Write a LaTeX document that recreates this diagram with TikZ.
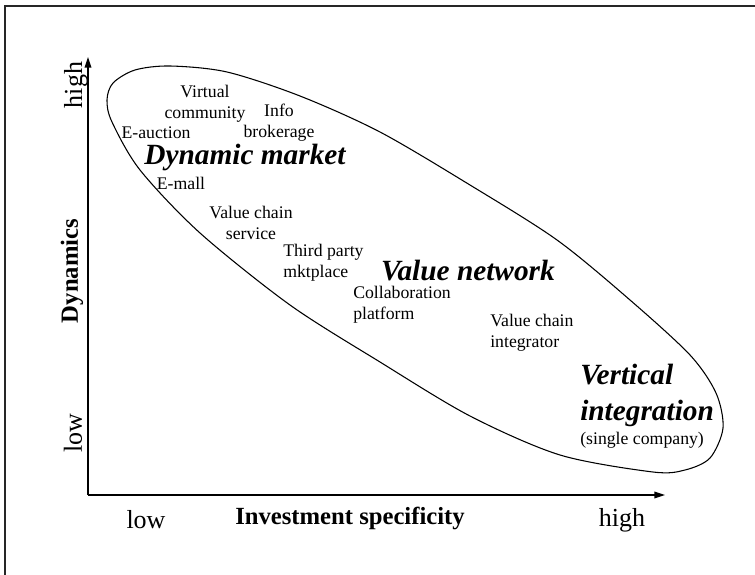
\documentclass[tikz,border=0pt]{standalone}
\usepackage{fontspec}
\setmainfont{Liberation Serif}
\usetikzlibrary{arrows.meta}
\begin{document}
\begin{tikzpicture}[x=0.75pt,y=-0.75pt,
  lbl/.style={inner sep=0pt,font=\fontsize{13.3}{15.5}\selectfont,align=center},
  lbll/.style={lbl,align=left,anchor=west},
  big/.style={inner sep=0pt,font=\fontsize{22}{27}\selectfont\bfseries\itshape},
  axlbl/.style={inner sep=0pt,font=\fontsize{19.5}{22}\selectfont},
  axtitle/.style={inner sep=0pt,font=\fontsize{18.5}{22}\selectfont\bfseries},
  axis/.style={line width=1pt,-{Triangle[length=8pt,width=5pt]}},
  frameline/.style={line width=1.1pt,black!85}]
\useasboundingbox (0,0) rectangle (755,574);
% frame (runs off the right and bottom edges)
\draw[frameline] (5,580) -- (5,6) -- (765,6);
% axes
\coordinate (o) at (88,495);
\coordinate (ytip) at (88,57);
\coordinate (xtip) at (665,495);
\draw[axis] (o) -- (ytip);
\draw[axis] (o) -- (xtip);
% oval
\draw[line width=0.8pt] plot[smooth cycle,tension=0.5] coordinates {
  (135,70) (170,66) (227,72) (300,96) (380,132) (470,185) (557,240)
  (630,300) (690,355) (716,393) (723,428) (710,458) (685,470) (653,472)
  (560,455) (470,416) (380,362) (290,305) (200,233) (140,170) (112,122)
  (107,100) (113,83)};
% labels
\node[lbl] (virt) at (205,104) {Virtual\\community};
\node[lbl] (info) at (279,123) {Info\\brokerage};
\node[lbl] (eauc) at (156,133) {E-auction};
\node[big] (dm) at (245,157) {Dynamic market};
\node[lbl] (emall) at (181,183) {E-mall};
\node[lbl] (vcs) at (251,223) {Value chain\\service};
\node[lbll] (tpm) at (283,263) {Third party\\mktplace};
\node[big] (vn) at (468,271) {Value network};
\node[lbll] (cp) at (353,305) {Collaboration\\platform};
\node[lbll] (vci) at (490,333) {Value chain\\integrator};
\node[big,anchor=west,align=left] (vi) at (580,395) {Vertical\\integration};
\node[lbll] (sc) at (580,440) {(single company)};
% axis labels
\node[axlbl,rotate=90] (yhigh) at (76,85) {high};
\node[axlbl,rotate=90] (ylow) at (73,433) {low};
\node[axtitle,rotate=90] (dyn) at (72,271) {Dynamics};
\node[axlbl] (xlow) at (146,520) {low};
\node[axtitle] (inv) at (350,518) {Investment specificity};
\node[axlbl] (xhigh) at (622,520) {high};
\end{tikzpicture}
\end{document}
